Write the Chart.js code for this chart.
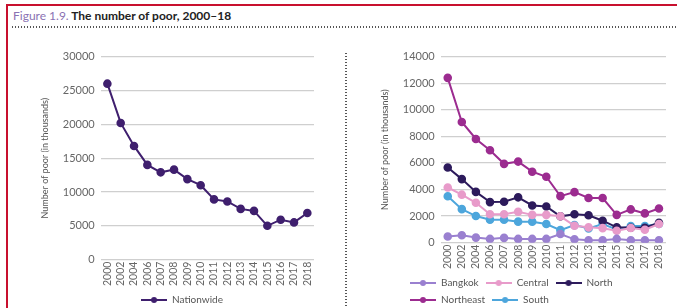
<!DOCTYPE html>
<html>
<head>
<meta charset="utf-8">
<script src="https://cdn.jsdelivr.net/npm/chart.js@4"></script>
<style>
body{margin:0;width:677px;height:308px;background:#fff;position:relative;overflow:hidden;font-family:Lato,sans-serif}
.frame{position:absolute;left:6px;top:4px;width:680px;height:320px;border-top:2px solid #c8102e;border-left:2px solid #c8102e}
.title{position:absolute;left:13px;top:8px;font-size:12px;color:#222;font-weight:bold;white-space:nowrap}
.title span{color:#8a72b3;font-weight:normal}
.hdots{position:absolute;left:12px;top:26px;width:665px;height:2px;background-image:linear-gradient(to right,#555 1.5px,transparent 1.5px);background-size:3px 2px}
.vdots{position:absolute;left:345px;top:53px;width:2px;height:255px;background-image:linear-gradient(to bottom,#555 1.5px,transparent 1.5px);background-size:2px 3px}
#nation{position:absolute;left:38px;top:44px}
#region{position:absolute;left:378px;top:44px}
</style>
</head>
<body>
<div class="frame"></div>
<div class="title"><span>Figure 1.9.</span> The number of poor, 2000–18</div>
<div class="hdots"></div>
<div class="vdots"></div>
<canvas id="nation" width="288" height="271"></canvas>
<canvas id="region" width="300" height="271"></canvas>
<script>
// years and number of poor (thousands)
const years = ['2000','2002','2004','2006','2007','2008','2009','2010','2011','2012','2013','2014','2015','2016','2017','2018'];
const nationwide = [26000,20200,16800,14000,12900,13300,11900,11000,8900,8600,7500,7200,5000,5900,5500,6900];
const bangkok   = [460,560,380,280,360,280,280,280,650,250,180,180,280,180,180,180];
const central   = [4150,3610,3000,2140,2140,2320,2090,2090,1980,1270,1150,1090,890,1100,970,1400];
const north     = [5650,4780,3820,3050,3080,3410,2800,2720,1980,2140,2060,1650,1150,1120,1120,1500];
const northeast = [12400,9080,7800,6950,5930,6100,5340,4960,3500,3800,3360,3360,2090,2500,2200,2570];
const south     = [3490,2520,2000,1730,1730,1580,1580,1400,940,1320,1070,1400,1000,1250,1250,1400];

const nationTicks = [0,5000,10000,15000,20000,25000,30000];
const regionTicks = [0,2000,4000,6000,8000,10000,12000,14000];

const grey = '#666';
Chart.defaults.font.family = 'Lato, sans-serif';
Chart.defaults.color = grey;

function icon(color){
  const c = document.createElement('canvas');
  c.width = 26; c.height = 8;
  const x = c.getContext('2d');
  x.strokeStyle = color; x.lineWidth = 2;
  x.beginPath(); x.moveTo(0,4); x.lineTo(26,4); x.stroke();
  x.fillStyle = color;
  x.beginPath(); x.arc(13,4,3,0,Math.PI*2); x.fill();
  return c;
}

// move the legend sideways after layout
const shiftLegend = {
  id: 'shiftLegend',
  afterLayout(chart, args, opts){
    const l = chart.legend;
    if (!l || !opts.x) return;
    l.left += opts.x; l.right += opts.x;
  }
};

function line(label, data, color){
  return {
    label: label, data: data,
    borderColor: color, backgroundColor: color,
    borderWidth: 2, pointRadius: 3.3, pointHoverRadius: 3.3,
    tension: 0
  };
}

function options(ticks, max, shift, align){
  return {
    responsive: false, animation: false,
    layout: {padding: {right: 12}},
    scales: {
      x: {
        offset: true,
        grid: {display: false, drawTicks: false},
        border: {display: false},
        ticks: {autoSkip: false, minRotation: 90, maxRotation: 90, padding: 2, font: {size: 10.5}, color: grey}
      },
      y: {
        min: 0, max: max,
        afterBuildTicks: s => { s.ticks = ticks.map(v => ({value: v})); },
        grid: {color: '#cfcfcf', lineWidth: 1.2, drawTicks: false},
        border: {display: false},
        ticks: {padding: 6, font: {size: 11}, color: grey, callback: v => String(v)},
        title: {display: true, text: 'Number of poor (in thousands)', font: {size: 9}, color: '#555', padding: {top: 2, bottom: 6}}
      }
    },
    plugins: {
      shiftLegend: {x: shift},
      tooltip: {enabled: false},
      legend: {
        position: 'bottom', align: align,
        labels: {
          usePointStyle: true, pointStyleWidth: 26, padding: 7,
          font: {size: 10}, color: '#555',
          generateLabels: chart => Chart.defaults.plugins.legend.labels.generateLabels(chart)
            .map(l => Object.assign(l, {pointStyle: icon(chart.data.datasets[l.datasetIndex].borderColor)}))
        }
      }
    }
  };
}

new Chart(document.getElementById('nation'), {
  type: 'line',
  data: {labels: years, datasets: [line('Nationwide', nationwide, '#3f1f6e')]},
  options: options(nationTicks, 30000, 6, 'center'),
  plugins: [shiftLegend]
});

new Chart(document.getElementById('region'), {
  type: 'line',
  data: {labels: years, datasets: [
    line('Bangkok', bangkok, '#9a80d0'),
    line('Central', central, '#e89bca'),
    line('North', north, '#2d1b5c'),
    line('Northeast', northeast, '#9c2c90'),
    line('South', south, '#4da6dc')
  ]},
  options: options(regionTicks, 14000, 25, 'start'),
  plugins: [shiftLegend]
});
</script>
</body>
</html>
